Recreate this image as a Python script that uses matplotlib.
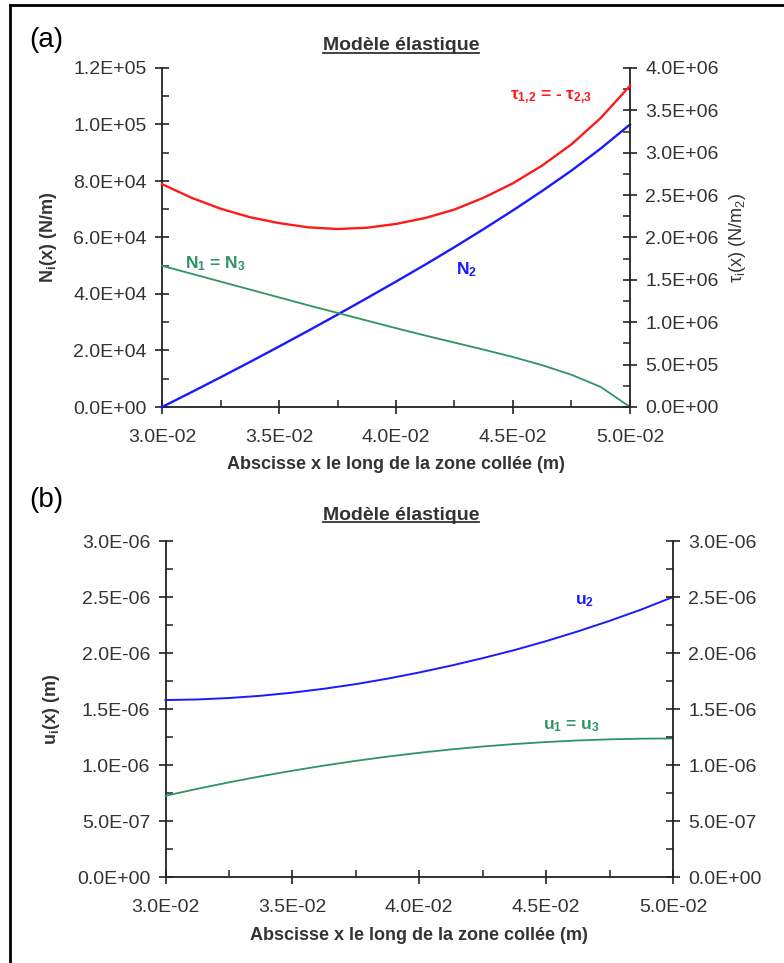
import numpy as np
import matplotlib
matplotlib.use("Agg")
import matplotlib.pyplot as plt
from matplotlib.ticker import MultipleLocator, FormatStrFormatter
from matplotlib.lines import Line2D

plt.rcParams["font.family"] = ["Liberation Sans", "DejaVu Sans"]
plt.rcParams["mathtext.default"] = "regular"

# abscissa along the bonded zone (m)
x = [0.03, 0.03125, 0.0325, 0.03375, 0.035, 0.03625, 0.0375, 0.03875, 0.04,
     0.04125, 0.0425, 0.04375, 0.045, 0.04625, 0.0475, 0.04875, 0.05]

# (a) normal forces N (N/m) and shear stress tau (N/m2)
n2 = [0, 5.2e3, 10.5e3, 15.9e3, 21.4e3, 27.0e3, 32.7e3, 38.5e3, 44.4e3,
      50.4e3, 56.6e3, 63.0e3, 69.6e3, 76.5e3, 83.7e3, 91.5e3, 100.0e3]
n13 = [50.0e3, 47.2e3, 44.4e3, 41.6e3, 38.8e3, 36.0e3, 33.3e3, 30.6e3, 27.9e3,
       25.3e3, 22.8e3, 20.3e3, 17.7e3, 14.8e3, 11.4e3, 7.1e3, 0]
tau = [2.63e6, 2.47e6, 2.34e6, 2.24e6, 2.17e6, 2.12e6, 2.10e6, 2.115e6, 2.16e6,
       2.23e6, 2.33e6, 2.47e6, 2.64e6, 2.85e6, 3.10e6, 3.41e6, 3.79e6]

# (b) displacements u (m)
u2 = [1.58e-6, 1.585e-6, 1.598e-6, 1.618e-6, 1.646e-6, 1.681e-6, 1.722e-6, 1.771e-6, 1.826e-6,
      1.887e-6, 1.954e-6, 2.026e-6, 2.106e-6, 2.193e-6, 2.287e-6, 2.388e-6, 2.50e-6]
u13 = [0.725e-6, 0.787e-6, 0.845e-6, 0.899e-6, 0.949e-6, 0.995e-6, 1.037e-6, 1.075e-6, 1.109e-6,
       1.139e-6, 1.165e-6, 1.187e-6, 1.205e-6, 1.219e-6, 1.229e-6, 1.235e-6, 1.237e-6]

RED = "#ff1a1a"
BLUE = "#1a1aff"
GREEN = "#2e9464"
AXC = "#222222"
TXT = "#333333"

W, H = 784, 963
fig = plt.figure(figsize=(W / 100, H / 100), dpi=100)


def fx(px):
    return px / W


def fy(py):
    return 1 - py / H


def style(ax):
    ax.spines["top"].set_visible(False)
    for s in ["left", "right", "bottom"]:
        ax.spines[s].set_color(AXC)
        ax.spines[s].set_linewidth(1.3)
    ax.tick_params(which="major", direction="inout", length=10, width=1.2,
                   color=AXC, labelcolor=TXT, labelsize=14)
    ax.tick_params(which="minor", direction="in", length=5, width=1.1, color=AXC)
    ax.tick_params(axis="y", which="major", pad=6)
    ax.tick_params(axis="x", which="major", pad=11)


def setup(ax, ymax, ymaj, ymin):
    ax.patch.set_alpha(0)
    ax.set_xlim(0.03, 0.05)
    ax.set_ylim(0, ymax)
    ax.xaxis.set_major_locator(MultipleLocator(0.005))
    ax.xaxis.set_minor_locator(MultipleLocator(0.0025))
    ax.yaxis.set_major_locator(MultipleLocator(ymaj))
    ax.yaxis.set_minor_locator(MultipleLocator(ymin))
    ax.xaxis.set_major_formatter(FormatStrFormatter("%.1E"))
    ax.yaxis.set_major_formatter(FormatStrFormatter("%.1E"))
    style(ax)
    ax.spines["right"].set_visible(False)


def right_axis(ax, ymax, ymaj, ymin):
    a2 = ax.twinx()
    a2.set_ylim(0, ymax)
    a2.yaxis.set_major_locator(MultipleLocator(ymaj))
    a2.yaxis.set_minor_locator(MultipleLocator(ymin))
    a2.yaxis.set_major_formatter(FormatStrFormatter("%.1E"))
    style(a2)
    a2.spines["left"].set_visible(False)
    a2.spines["bottom"].set_visible(False)
    return a2


xlabel = "Abscisse x le long de la zone collée (m)"

# ---------------- panel (a) ----------------
axa = fig.add_axes([fx(162), fy(407), fx(630) - fx(162), fy(68) - fy(407)])
setup(axa, 1.2e5, 2e4, 1e4)
axa2 = right_axis(axa, 4e6, 5e5, 2.5e5)

axa.plot(x, n2, color=BLUE, lw=1.7, clip_on=False, zorder=3)
axa.plot(x, n13, color=GREEN, lw=1.3, clip_on=False, zorder=3)
axa2.plot(x, tau, color=RED, lw=1.7, clip_on=False, zorder=3)

axa.set_xlabel(xlabel, fontsize=13, fontweight="bold", color=TXT, labelpad=7)
axa.set_ylabel("N$_i$(x) (N/m)", fontsize=13, fontweight="bold", color=TXT, labelpad=10)
axa2.set_ylabel("τ$_i$(x) (N/m$_2$)", fontsize=13, color=TXT, labelpad=6)

axa.text(0.04662, 1.097e5, "τ$_{1{,}2}$ = - τ$_{2{,}3}$", color=RED, fontsize=12.5,
         fontweight="bold", ha="center", va="center")
axa.text(0.04302, 4.85e4, "N$_2$", color=BLUE, fontsize=12.5, fontweight="bold",
         ha="center", va="center")
axa.text(0.03227, 5.06e4, "N$_1$ = N$_3$", color=GREEN, fontsize=12.5, fontweight="bold",
         ha="center", va="center")

# ---------------- panel (b) ----------------
axb = fig.add_axes([fx(165.5), fy(877), fx(673) - fx(165.5), fy(541) - fy(877)])
setup(axb, 3e-6, 5e-7, 2.5e-7)
axb2 = right_axis(axb, 3e-6, 5e-7, 2.5e-7)

axb.plot(x, u2, color=BLUE, lw=1.4, clip_on=False, zorder=3)
axb.plot(x, u13, color=GREEN, lw=1.3, clip_on=False, zorder=3)

axb.set_xlabel(xlabel, fontsize=13, fontweight="bold", color=TXT, labelpad=8)
axb.set_ylabel("u$_i$(x) (m)", fontsize=13, fontweight="bold", color=TXT, labelpad=11)

axb.text(0.04653, 2.46e-6, "u$_2$", color=BLUE, fontsize=12.5, fontweight="bold",
         ha="center", va="center")
axb.text(0.04598, 1.35e-6, "u$_1$ = u$_3$", color=GREEN, fontsize=12.5, fontweight="bold",
         ha="center", va="center")

# titles and panel letters
titles = []
for ty in (46, 515):
    t = fig.text(fx(401), fy(ty), "Modèle élastique", fontsize=14, fontweight="bold",
                 color=TXT, ha="center", va="center")
    titles.append(t)
fig.text(fx(29), fy(40), "(a)", fontsize=20, color="black", ha="left", va="center")
fig.text(fx(29), fy(500), "(b)", fontsize=20, color="black", ha="left", va="center")

# underline the titles
fig.canvas.draw()
r = fig.canvas.get_renderer()
for t in titles:
    bb = t.get_window_extent(renderer=r)
    yl = bb.y0 + 1
    fig.add_artist(Line2D([bb.x0 / W, bb.x1 / W], [yl / H, yl / H], color=TXT, lw=1.3))

# frame (only top and left edges fall inside the picture)
fig.add_artist(Line2D([fx(10), fx(10)], [fy(5), 0], color="black", lw=2))
fig.add_artist(Line2D([fx(10), 1], [fy(5), fy(5)], color="black", lw=2))

fig.savefig("out.png", dpi=100)
